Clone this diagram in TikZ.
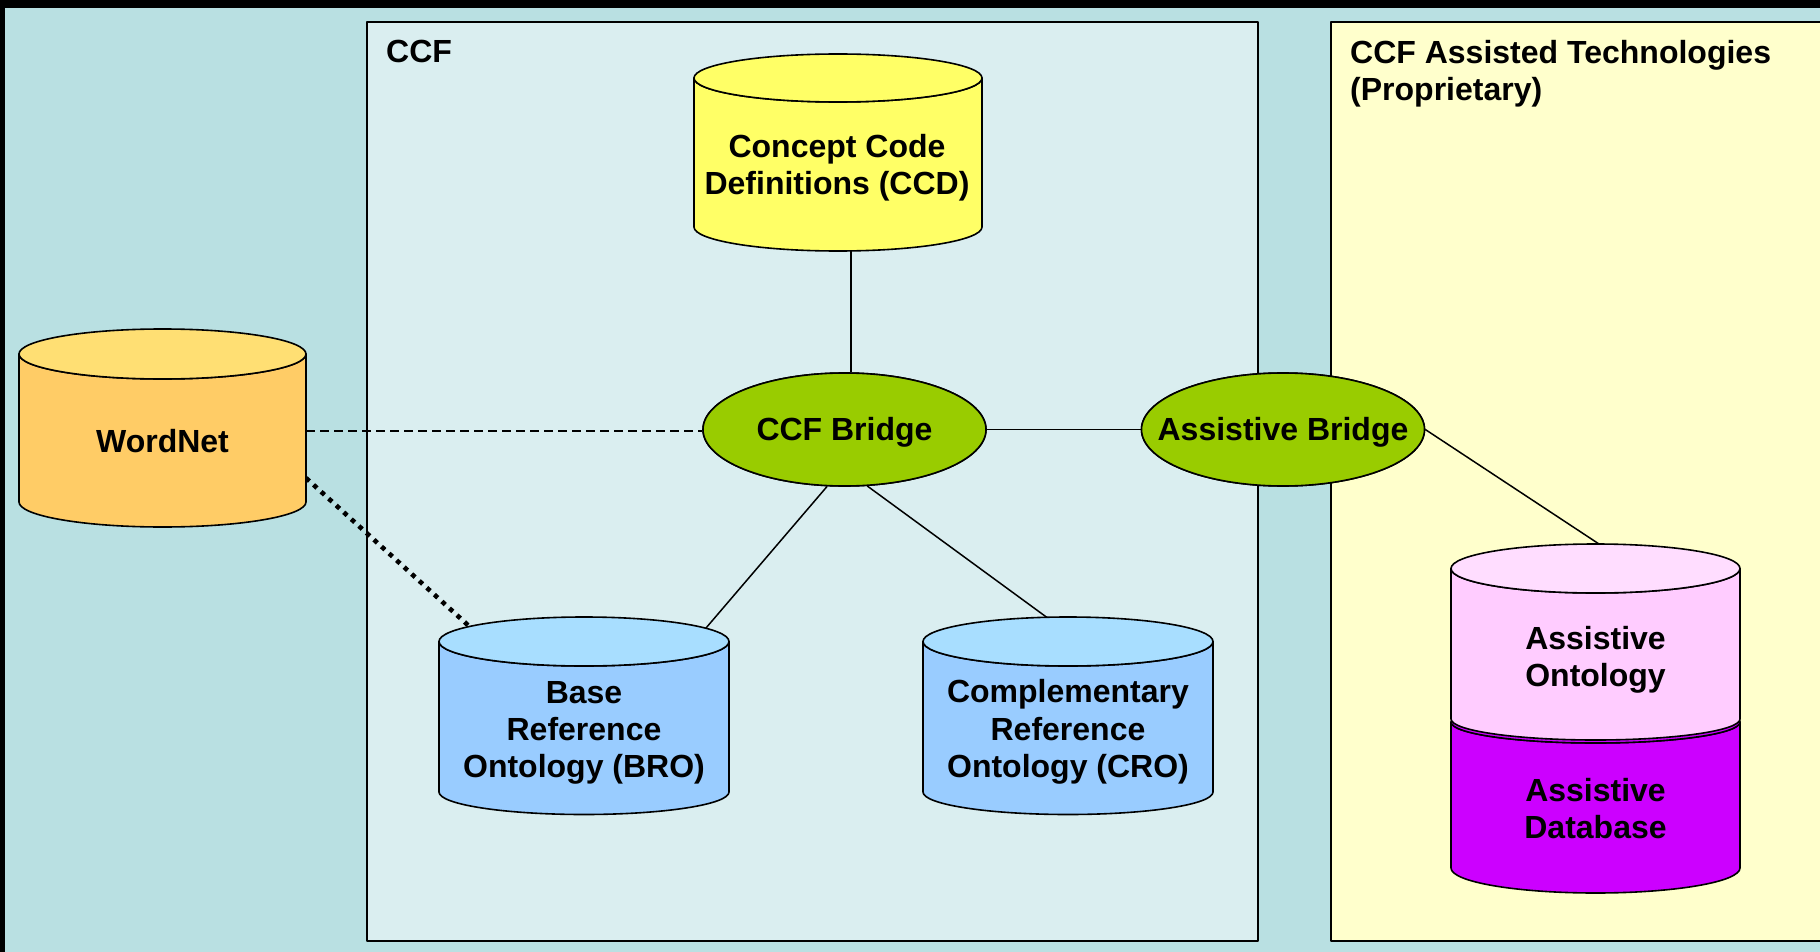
\documentclass[tikz,border=0pt]{standalone}
\usepackage{fontspec}
\setmainfont{Liberation Sans}
\usetikzlibrary{shapes.geometric}
\definecolor{bgblue}{HTML}{B9E0E2}
\definecolor{ccfbg}{HTML}{DAEEF0}
\definecolor{techbg}{HTML}{FFFFCC}
\definecolor{ccdfill}{HTML}{FFFF66}
\definecolor{wntop}{HTML}{FFDF73}
\definecolor{wnbody}{HTML}{FFCC66}
\definecolor{bridgegreen}{HTML}{99CC00}
\definecolor{rotop}{HTML}{A8DEFF}
\definecolor{robody}{HTML}{99CCFF}
\definecolor{aotop}{HTML}{FFDDFF}
\definecolor{aobody}{HTML}{FFCCFF}
\definecolor{adbody}{HTML}{CC00FF}
% cx, ytop, ybottom, rx, ry top, ry bottom, top fill, body fill
\newcommand\dbcyl[8]{%
  \filldraw[cylline, fill=#8] (#1-#4,#2) -- (#1-#4,#3)
    arc[start angle=180, end angle=360, x radius=#4pt, y radius=#6pt]
    -- (#1+#4,#2)
    arc[start angle=0, end angle=-180, x radius=#4pt, y radius=#5pt] -- cycle;
  \filldraw[cylline, fill=#7] (#1,#2) ellipse[x radius=#4pt, y radius=#5pt];
}
\newcommand\bridgelabel[1]{\makebox[0pt]{\raisebox{-10.5pt}[0pt][0pt]{#1}}}
\tikzset{
  cylline/.style={draw=black, line width=1.6pt},
  boxline/.style={draw=black, line width=2pt},
  conn/.style={draw=black, line width=1.5pt},
  dashline/.style={draw=black, line width=1.6pt, dash pattern=on 9pt off 5pt},
  dotline/.style={draw=black, line width=4.6pt, dash pattern=on 4.6pt off 5.6pt},
  bridge/.style={ellipse, draw=black, line width=1.6pt, fill=bridgegreen,
    minimum width=283pt, minimum height=113pt, inner sep=0pt},
  cyltext/.style={align=center, inner sep=0pt},
  titletext/.style={align=left, inner sep=0pt, anchor=north west},
  every node/.style={font=\fontsize{32}{37.3}\selectfont\bfseries}
}
\begin{document}
\begin{tikzpicture}[x=1pt, y=-1pt, line join=round]
\useasboundingbox (0,0) rectangle (1820,952);
% background and frame
\fill[bgblue] (0,0) rectangle (1820,952);
\fill[black] (0,0) rectangle (1820,8);
\fill[black] (0,0) rectangle (5,952);
% CCF box
\filldraw[boxline, fill=ccfbg] (367,22) rectangle (1258,941);
% Technologies box
\fill[techbg] (1331,22) rectangle (1820,941);
\draw[boxline] (1822,22) -- (1331,22) -- (1331,941) -- (1822,941);
% titles
\node[titletext] (ccftitle) at (386,40) {CCF};
\node[titletext] (techtitle) at (1350,40) {CCF Assisted Technologies\\(Proprietary)};
% bridges
\node[bridge] (ccfb) at (844.5,429.5) {\bridgelabel{CCF Bridge}};
\node[bridge] (ab) at (1283,429.5) {\bridgelabel{Assistive Bridge}};
% connector end points on the cylinders
\coordinate (ccd-b) at (851,251);
\coordinate (bro-t) at (706,628);
\coordinate (bro-d) at (470,627);
\coordinate (cro-t) at (1047,617.5);
\coordinate (ao-t) at (1599,544);
\coordinate (wn-r1) at (306,431);
\coordinate (wn-r2) at (306,478);
% connectors
\draw[conn] (ccd-b) -- (ccd-b |- ccfb.north);
\draw[conn] (ccfb.253) -- (bro-t);
\draw[conn] (ccfb.292) -- (cro-t);
\draw[conn] (ccfb) -- (ab);
\draw[conn] (ab.east) -- (ao-t);
\draw[dashline] (wn-r1) -- (wn-r1 -| ccfb.west);
\draw[dotline] (wn-r2) -- (bro-d);
% cylinders
\dbcyl{838}{78}{227}{144}{24}{24}{ccdfill}{ccdfill}
\dbcyl{162.5}{354}{502}{143.5}{25}{25}{wntop}{wnbody}
\dbcyl{584}{641.5}{792}{145}{24.5}{22.5}{rotop}{robody}
\dbcyl{1068}{641.5}{792}{145}{24.5}{22.5}{rotop}{robody}
\dbcyl{1595.5}{722}{868}{144.5}{21}{25}{adbody}{adbody}
\dbcyl{1595.5}{568.5}{719}{144.5}{24.5}{21}{aotop}{aobody}
% bridges redrawn over connector ends
\node[bridge] at (ccfb) {\bridgelabel{CCF Bridge}};
\node[bridge] at (ab) {\bridgelabel{Assistive Bridge}};
% cylinder texts
\node[cyltext] (ccd) at (837,167.5) {Concept Code\\Definitions (CCD)};
\node[cyltext] (wordnet) at (162.5,441) {WordNet};
\node[cyltext] (bro) at (584,733) {Base\\Reference\\Ontology (BRO)};
\node[cyltext] (cro) at (1068,732) {Complementary\\Reference\\Ontology (CRO)};
\node[cyltext] (ao) at (1595.5,659.5) {Assistive\\Ontology};
\node[cyltext] (ad) at (1595.5,808.5) {Assistive\\Database};
\end{tikzpicture}
\end{document}
